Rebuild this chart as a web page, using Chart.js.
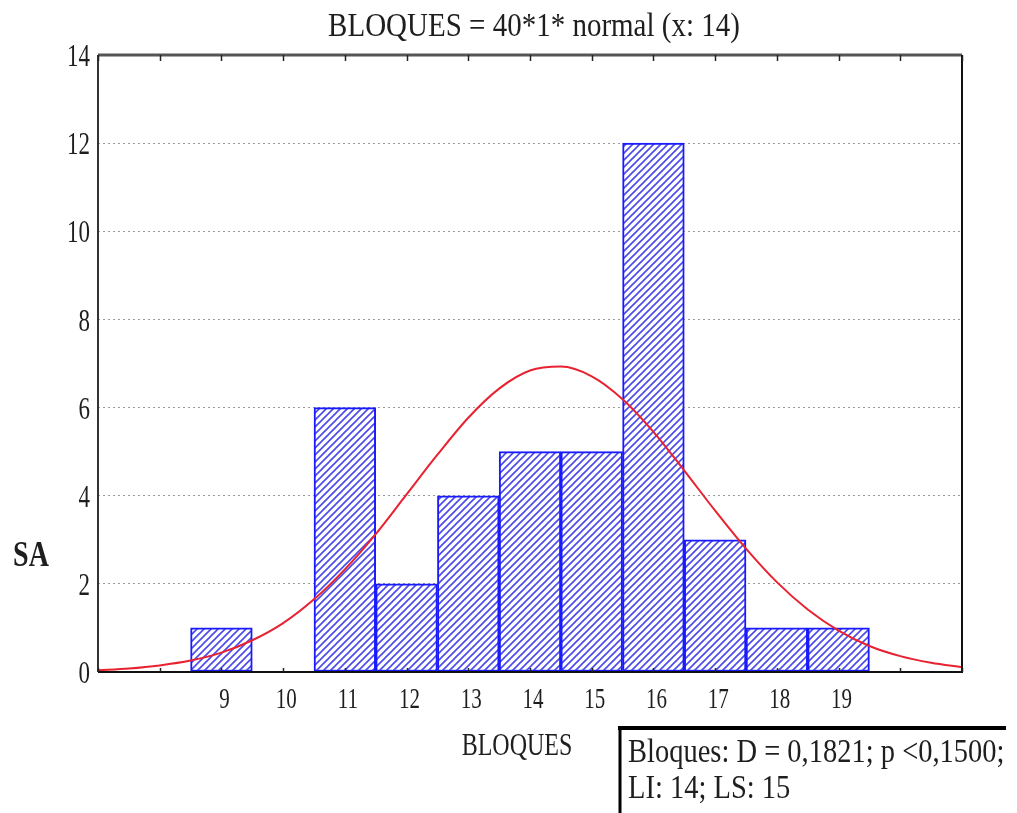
<!DOCTYPE html>
<html><head><meta charset="utf-8">
<script src="https://cdn.jsdelivr.net/npm/chart.js@4/dist/chart.umd.min.js"></script>
<style>html,body{margin:0;padding:0;background:#fff}#wrap{width:1017px;height:813px;position:relative}</style>
</head><body><div id="wrap"><canvas id="c" width="1017" height="813"></canvas></div>
<script>
const binCenters = [9, 10, 11, 12, 13, 14, 15, 16, 17, 18, 19];
const counts     = [1, 0, 6, 2, 4, 5, 5, 12, 3, 1, 1];
const curveX = [7, 7.5, 8, 8.5, 9, 9.5, 10, 10.5, 11, 11.5, 12, 12.5, 13, 13.5, 14, 14.5, 15, 15.5, 16, 16.5, 17, 17.5, 18, 18.5, 19, 19.5, 20, 20.5, 21];
const curveY = [0.04, 0.08, 0.15, 0.26, 0.44, 0.72, 1.11, 1.65, 2.33, 3.13, 4.03, 4.93, 5.77, 6.43, 6.84, 6.93, 6.71, 6.19, 5.45, 4.57, 3.66, 2.80, 2.04, 1.42, 0.94, 0.59, 0.36, 0.21, 0.11];
const yTicks = [0, 2, 4, 6, 8, 10, 12, 14];
const xTickLabels = [9, 10, 11, 12, 13, 14, 15, 16, 17, 18, 19];
const titleText = 'BLOQUES = 40*1* normal (x: 14)';
const xTitle = 'BLOQUES';
const yTitle = 'SA';
const boxLines = ['Bloques: D = 0,1821; p <0,1500;', 'LI: 14; LS: 15'];

const SERIF = '"Liberation Serif", "DejaVu Serif", serif';

function hatch() {
  const s = 7;
  const pc = document.createElement('canvas');
  pc.width = s; pc.height = s;
  const g = pc.getContext('2d');
  g.fillStyle = '#ffffff'; g.fillRect(0, 0, s, s);
  g.strokeStyle = '#4a4ae8'; g.lineWidth = 1.6;
  g.beginPath();
  g.moveTo(-1, s + 1); g.lineTo(s + 1, -1);
  g.moveTo(-1, 1); g.lineTo(1, -1);
  g.moveTo(s - 1, s + 1); g.lineTo(s + 1, s - 1);
  g.stroke();
  return g.createPattern(pc, 'repeat');
}

function stretchText(ctx, text, x, y, font, sy, align, baseline) {
  ctx.save();
  ctx.translate(x, y);
  ctx.scale(1, sy);
  ctx.font = font;
  ctx.textAlign = align;
  ctx.textBaseline = baseline;
  ctx.fillText(text, 0, 0);
  ctx.restore();
}

const deco = {
  id: 'deco',
  afterDraw(chart) {
    const ctx = chart.ctx, a = chart.chartArea, xs = chart.scales.x, ys = chart.scales.y;
    ctx.save();
    // frame
    ctx.strokeStyle = '#555'; ctx.lineWidth = 3;
    ctx.beginPath(); ctx.moveTo(a.left, a.top); ctx.lineTo(a.right, a.top); ctx.stroke();
    ctx.strokeStyle = '#333'; ctx.lineWidth = 2;
    ctx.beginPath(); ctx.moveTo(a.left, a.top); ctx.lineTo(a.left, a.bottom); ctx.stroke();
    ctx.strokeStyle = '#111'; ctx.lineWidth = 2;
    ctx.beginPath(); ctx.moveTo(a.left, a.bottom); ctx.lineTo(a.right, a.bottom); ctx.lineTo(a.right, a.top); ctx.stroke();
    // inner tick marks top & bottom at integers
    ctx.strokeStyle = '#222'; ctx.lineWidth = 1.5;
    for (let v = Math.ceil(xs.min); v <= xs.max; v++) {
      const px = Math.round(xs.getPixelForValue(v)) + 0.5;
      ctx.beginPath(); ctx.moveTo(px, a.top); ctx.lineTo(px, a.top + 6); ctx.stroke();
      ctx.beginPath(); ctx.moveTo(px, a.bottom); ctx.lineTo(px, a.bottom - 4); ctx.stroke();
    }
    ctx.fillStyle = '#1e1e1e';
    // tick labels (stretched like the reference)
    yTicks.forEach(v => {
      stretchText(ctx, String(v), a.left - 8, ys.getPixelForValue(v) + 3, '23px ' + SERIF, 1.35, 'right', 'middle');
    });
    xTickLabels.forEach(v => {
      stretchText(ctx, String(v), xs.getPixelForValue(v) + 3, 700, '21px ' + SERIF, 1.45, 'center', 'middle');
    });
    // titles
    stretchText(ctx, titleText, 534, 36, '29px ' + SERIF, 1.14, 'center', 'alphabetic');
    stretchText(ctx, xTitle, 517, 755, '24px ' + SERIF, 1.35, 'center', 'alphabetic');
    stretchText(ctx, yTitle, 31, 566, 'bold 28px ' + SERIF, 1.25, 'center', 'alphabetic');
    // stats box
    ctx.strokeStyle = '#000';
    ctx.lineWidth = 4;
    ctx.beginPath(); ctx.moveTo(618, 728); ctx.lineTo(1006, 728); ctx.stroke();
    ctx.lineWidth = 3;
    ctx.beginPath(); ctx.moveTo(620, 726); ctx.lineTo(620, 813); ctx.stroke();
    stretchText(ctx, boxLines[0], 628, 762, '28.5px ' + SERIF, 1.16, 'left', 'alphabetic');
    stretchText(ctx, boxLines[1], 628, 798, '28.5px ' + SERIF, 1.16, 'left', 'alphabetic');
    ctx.restore();
  }
};

new Chart(document.getElementById('c'), {
  data: {
    datasets: [
      {
        type: 'line',
        data: curveX.map((x, i) => ({ x: x, y: curveY[i] })),
        borderColor: '#e82230',
        borderWidth: 2,
        pointRadius: 0,
        tension: 0.4,
        cubicInterpolationMode: 'monotone',
        order: 0
      },
      {
        type: 'bar',
        data: binCenters.map((x, i) => ({ x: x, y: counts[i] })),
        backgroundColor: hatch(),
        borderColor: '#1a1aff',
        borderWidth: 2,
        borderSkipped: false,
        barPercentage: 1,
        categoryPercentage: 1,
        order: 1
      }
    ]
  },
  options: {
    responsive: false,
    animation: false,
    events: [],
    layout: { padding: { top: 55, right: 55, left: 0, bottom: 0 } },
    plugins: { legend: { display: false }, tooltip: { enabled: false }, title: { display: false } },
    scales: {
      x: {
        type: 'linear', min: 7, max: 21, offset: false,
        afterFit(s) { s.height = 141; },
        grid: { display: false, drawTicks: false },
        border: { display: false },
        afterBuildTicks(s) { s.ticks = xTickLabels.map(v => ({ value: v })); },
        ticks: { display: false }
      },
      y: {
        min: 0, max: 14,
        afterFit(s) { s.width = 98; },
        afterBuildTicks(s) { s.ticks = yTicks.map(v => ({ value: v })); },
        grid: { color: '#9a9a9a', lineWidth: 1, drawTicks: false },
        border: { display: false, dash: [2, 3] },
        ticks: { display: false }
      }
    }
  },
  plugins: [deco]
});
</script>
</body></html>
